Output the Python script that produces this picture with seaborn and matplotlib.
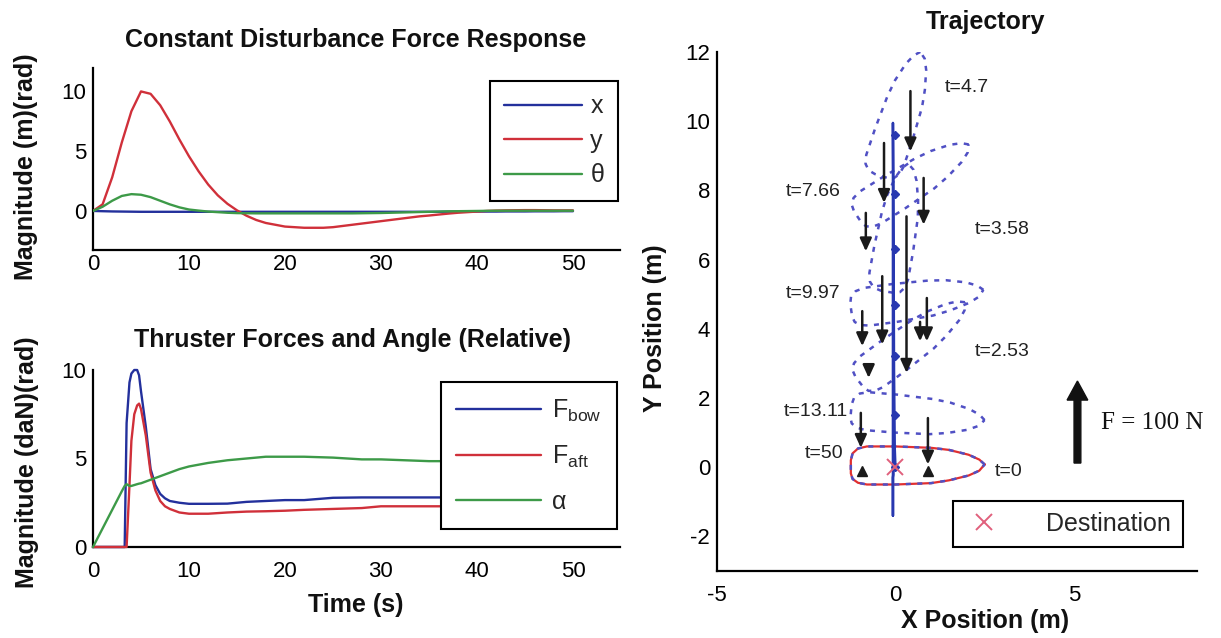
import numpy as np
import matplotlib
matplotlib.use("Agg")
import matplotlib.pyplot as plt
import seaborn as sns

# ---------------- data ----------------
# response to a constant 100 N disturbance (1 s samples)
t_resp = list(range(51))
x_resp = [0.00, -0.02, -0.04, -0.05, -0.06, -0.07, -0.07, -0.07, -0.07, -0.07,
          -0.07, -0.07, -0.07, -0.07, -0.07, -0.07, -0.07, -0.07, -0.07, -0.07,
          -0.07, -0.07, -0.07, -0.07, -0.07, -0.07, -0.07, -0.07, -0.07, -0.07,
          -0.07, -0.07, -0.07, -0.07, -0.07, -0.07, -0.07, -0.06, -0.06, -0.06,
          -0.05, -0.05, -0.05, -0.04, -0.04, -0.04, -0.03, -0.03, -0.03, -0.02, -0.02]
y_resp = [0.00, 0.55, 2.80, 5.70, 8.30, 9.95, 9.75, 8.80, 7.45, 5.95,
          4.55, 3.30, 2.20, 1.30, 0.60, 0.05, -0.40, -0.75, -1.00, -1.15,
          -1.30, -1.35, -1.40, -1.40, -1.40, -1.35, -1.25, -1.15, -1.05, -0.95,
          -0.85, -0.75, -0.65, -0.55, -0.45, -0.38, -0.30, -0.22, -0.15, -0.10,
          -0.05, 0.00, 0.03, 0.05, 0.06, 0.07, 0.07, 0.06, 0.05, 0.05, 0.05]
th_resp = [0.00, 0.35, 0.85, 1.25, 1.40, 1.35, 1.15, 0.85, 0.55, 0.30,
           0.12, 0.03, -0.05, -0.10, -0.15, -0.18, -0.19, -0.20, -0.20, -0.20,
           -0.20, -0.20, -0.20, -0.20, -0.20, -0.20, -0.20, -0.20, -0.19, -0.18,
           -0.17, -0.15, -0.13, -0.11, -0.09, -0.07, -0.05, -0.03, -0.02, -0.01,
           0.00, 0.01, 0.02, 0.02, 0.02, 0.02, 0.02, 0.02, 0.02, 0.02, 0.02]
resp_labels = ["x", "y", "θ"]

# thruster commands
t_thr = [0, 1, 2, 3, 3.3, 3.5, 3.8, 4.0, 4.3, 4.6, 4.8, 5.0, 5.5, 6.0, 6.5, 7.0,
         7.5, 8, 9, 10, 12, 14, 16, 18, 20, 22, 25, 28, 30, 35, 40, 45, 50]
f_bow = [0, 0, 0, 0, 0, 7.0, 9.3, 9.8, 10.0, 10.0, 9.7, 8.8, 6.8, 4.4, 3.5, 3.0,
         2.75, 2.6, 2.5, 2.44, 2.44, 2.45, 2.55, 2.6, 2.65, 2.65, 2.78, 2.8, 2.8,
         2.8, 2.8, 2.8, 2.8]
f_aft = [0, 0, 0, 0, 0, 0, 3.5, 6.0, 7.5, 8.0, 8.1, 7.8, 6.3, 4.2, 3.2, 2.6,
         2.3, 2.15, 1.95, 1.88, 1.88, 1.95, 2.0, 2.02, 2.05, 2.1, 2.15, 2.2, 2.3,
         2.3, 2.3, 2.3, 2.3]
alpha = [0, 1.05, 2.1, 3.15, 3.45, 3.55, 3.45, 3.45, 3.5, 3.55, 3.58, 3.6, 3.7,
         3.8, 3.9, 4.0, 4.1, 4.2, 4.4, 4.55, 4.75, 4.9, 5.0, 5.1, 5.1, 5.1, 5.05,
         4.95, 4.95, 4.85, 4.85, 4.8, 4.8]
thr_labels = [r"F$_\mathregular{bow}$", r"F$_\mathregular{aft}$", "α"]

# hull outline in body frame (bow along +x, origin at the reference point)
hull_bx = [2.50, 2.35, 2.05, 1.50, 1.00, 0.00, -0.80, -1.05, -1.20, -1.25,
           -1.25, -1.20, -1.05, -0.80, 0.00, 1.00, 1.50, 2.05, 2.35, 2.50]
hull_by = [0.08, 0.22, 0.36, 0.50, 0.56, 0.60, 0.60, 0.54, 0.40, 0.20,
           -0.18, -0.34, -0.45, -0.50, -0.50, -0.46, -0.38, -0.24, -0.10, 0.08]

# snapshots of the vessel
snap_t = [0, 2.53, 3.58, 4.7, 7.66, 9.97, 13.11, 50]
snap_cy = [0.0, 3.2, 7.9, 9.6, 6.3, 4.7, 1.5, 0.0]
snap_heading = [0, 37, 33, 72, 80, 8, -5, 0]

# thruster force vectors (vertical, pointing down)
arrow_x = [0.42, -0.32, 0.79, -0.83, 0.31, -0.37, -0.93, 0.88, 0.69, -0.75, -0.97, 0.91]
arrow_tail = [10.87, 9.37, 8.36, 7.35, 7.25, 5.52, 4.51, 4.89, 4.20, 2.87, 1.57, 1.42]
arrow_head = [9.13, 7.64, 7.01, 6.24, 2.73, 3.55, 3.50, 3.64, 3.64, 2.58, 0.56, 0.08]
zero_x = [-0.93, 0.91]
zero_y = [-0.12, -0.12]

# ---------------- style ----------------
sns.set_theme(style="white")
plt.rcParams["font.family"] = ["Liberation Sans", "DejaVu Sans"]
plt.rcParams["mathtext.fontset"] = "custom"
plt.rcParams["mathtext.rm"] = "Liberation Sans"
plt.rcParams["axes.unicode_minus"] = False

BLUE = "#23309c"
RED = "#d0303a"
GREEN = "#3d9a48"
DASH_BLUE = "#5050c4"
INK = "#1a1a1a"

W, H = 1221, 638
fig = plt.figure(figsize=(W / 100, H / 100), dpi=100)
fig.patch.set_facecolor("white")


def fx(px):
    return px / W


def fy(py):
    return 1 - py / H


def axes_px(left, top, right, bottom):
    return fig.add_axes([fx(left), fy(bottom), (right - left) / W, (bottom - top) / H])


def style_axes(ax, xpad, ypad):
    for side in ("top", "right"):
        ax.spines[side].set_visible(False)
    for side in ("left", "bottom"):
        ax.spines[side].set_color("black")
        ax.spines[side].set_linewidth(1.6)
    ax.tick_params(axis="both", direction="in", length=4, width=1.3,
                   labelsize=16, colors="black")
    ax.tick_params(axis="x", pad=xpad)
    ax.tick_params(axis="y", pad=ypad)
    ax.set_facecolor("white")
    ax.grid(False)


def framed_legend(ax, handles, labels, **kw):
    leg = ax.legend(handles, labels, frameon=True, fancybox=False, framealpha=1,
                    edgecolor="black", fontsize=18, borderaxespad=0, **kw)
    leg.get_frame().set_linewidth(1.5)
    leg.set_zorder(10)
    return leg


# ---------------- top left: disturbance response ----------------
ax1 = axes_px(93, 68, 620, 250)
for vals, col in zip([x_resp, y_resp, th_resp], [BLUE, RED, GREEN]):
    sns.lineplot(x=t_resp, y=vals, ax=ax1, color=col, linewidth=1.7, zorder=3)
ax1.set_xlim(0, 54.9)
ax1.set_ylim(-3.25, 11.9)
ax1.set_xticks([0, 10, 20, 30, 40, 50])
ax1.set_yticks([0, 5, 10])
ax1.set_xlabel("")
ax1.set_ylabel("")
style_axes(ax1, 3, 5)
framed_legend(ax1, ax1.lines[:3], resp_labels, loc="upper right",
              bbox_to_anchor=(0.996, 0.93), handlelength=3.1, handletextpad=0.35,
              labelspacing=0.42, borderpad=0.55)

# ---------------- bottom left: thruster forces ----------------
ax2 = axes_px(93, 370, 620, 547)
for vals, col in zip([f_bow, f_aft, alpha], [BLUE, RED, GREEN]):
    sns.lineplot(x=t_thr, y=vals, ax=ax2, color=col, linewidth=1.7, zorder=3,
                 clip_on=False)
ax2.set_xlim(0, 54.9)
ax2.set_ylim(0, 10)
ax2.set_xticks([0, 10, 20, 30, 40, 50])
ax2.set_yticks([0, 5, 10])
ax2.set_xlabel("")
ax2.set_ylabel("")
style_axes(ax2, 10, 5)
framed_legend(ax2, ax2.lines[:3], thr_labels, loc="upper right",
              bbox_to_anchor=(0.994, 0.93), handlelength=3.4, handletextpad=0.45,
              labelspacing=0.8, borderpad=0.6)

# ---------------- right: trajectory ----------------
ax3 = axes_px(717, 52, 1197, 571)
ax3.set_xlim(-5, 8.45)
ax3.set_ylim(-3, 12)

# vessel outlines at the snapshot times
bx = np.array(hull_bx)
by = np.array(hull_by)
for k, (cy, hd) in enumerate(zip(snap_cy, snap_heading)):
    a = np.deg2rad(hd)
    ox = bx * np.cos(a) - by * np.sin(a)
    oy = bx * np.sin(a) + by * np.cos(a) + cy
    if k == len(snap_t) - 1:
        ax3.plot(ox, oy, color="#e03030", linewidth=1.6, zorder=3)
    else:
        ax3.plot(ox, oy, color=DASH_BLUE, linewidth=1.8,
                 linestyle=(0, (2.0, 2.6)), zorder=4)

# path of the reference point
sns.lineplot(x=x_resp, y=y_resp, ax=ax3, sort=False, estimator=None,
             color="#2838b0", linewidth=1.8, zorder=5)
ax3.plot([0] * (len(snap_cy) - 1), snap_cy[:-1], linestyle="none", marker="D",
         markersize=4.5, color="#2838b0", zorder=6)

# thruster forces
for xa, ya, yb in zip(arrow_x, arrow_tail, arrow_head):
    ax3.annotate("", xy=(xa, yb), xytext=(xa, ya),
                 arrowprops=dict(arrowstyle="-|>,head_length=0.55,head_width=0.25",
                                 color=INK, lw=1.8, shrinkA=0, shrinkB=0,
                                 mutation_scale=14),
                 zorder=7)
ax3.plot(zero_x, zero_y, linestyle="none", marker="^", markersize=7,
         color=INK, zorder=7)

# snapshot time labels
label_pos = [(2.78, -0.12), (2.22, 3.35), (2.22, 6.88), (1.39, 10.96),
             (-3.06, 7.98), (-3.06, 5.03), (-3.12, 1.62), (-2.55, 0.4)]
for tt, (lx, ly) in zip(snap_t, label_pos):
    ax3.text(lx, ly, f"t={tt:g}", fontsize=14, color="#222222",
             ha="left", va="center", zorder=8)

# disturbance force indicator
ax3.arrow(5.1, 0.12, 0, 2.37, width=0.19, head_width=0.58, head_length=0.55,
          length_includes_head=True, color="#111111", zorder=6)
ax3.text(5.75, 1.27, "F = 100 N", fontsize=18, family="Liberation Serif",
         ha="left", va="center", color="#111111")

dest, = ax3.plot([0], [0], linestyle="none", marker="x", markersize=11,
                 markeredgewidth=1.4, color="#e0607c", zorder=9)
ax3.set_xticks([-5, 0, 5])
ax3.set_yticks([-2, 0, 2, 4, 6, 8, 10, 12])
ax3.set_xlabel("")
ax3.set_ylabel("")
style_axes(ax3, 10, 5)
framed_legend(ax3, [dest], ["Destination"], loc="lower right",
              bbox_to_anchor=(0.97, 0.046), handlelength=1.6, handletextpad=1.7,
              borderpad=0.45)

# ---------------- titles and axis labels ----------------
bold = dict(fontsize=18, fontweight="bold", color="#111111", ha="center", va="center")
fig.text(fx(356), fy(40), "Constant Disturbance Force Response", **bold)
fig.text(fx(352), fy(340), "Thruster Forces and Angle (Relative)", **bold)
fig.text(fx(985), fy(22), "Trajectory", **bold)
fig.text(fx(26), fy(167), "Magnitude (m)(rad)", rotation=90, **bold)
fig.text(fx(27), fy(462), "Magnitude (daN)(rad)", rotation=90, **bold)
fig.text(fx(356), fy(605), "Time (s)", **bold)
fig.text(fx(985), fy(621), "X Position (m)", **bold)
fig.text(fx(655), fy(328), "Y Position (m)", rotation=90, **bold)

fig.savefig("out.png", dpi=100, facecolor="white")
